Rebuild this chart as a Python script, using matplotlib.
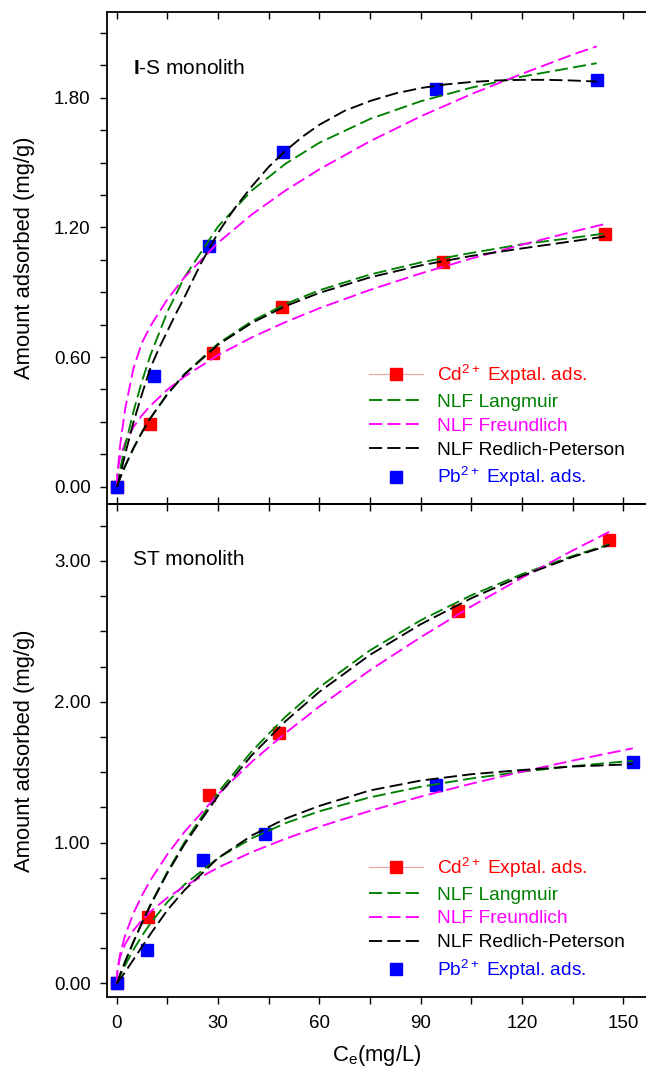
import matplotlib
matplotlib.use("Agg")
import matplotlib.pyplot as plt
from matplotlib.lines import Line2D
from matplotlib.ticker import MultipleLocator, FormatStrFormatter

plt.rcParams["font.family"] = ["Liberation Sans", "DejaVu Sans"]
plt.rcParams["mathtext.fontset"] = "custom"
plt.rcParams["mathtext.rm"] = "Liberation Sans"
plt.rcParams["mathtext.it"] = "Liberation Sans:italic"
plt.rcParams["mathtext.bf"] = "Liberation Sans:bold"

FS_TICK = 13.5
FS_LABEL = 15.8
FS_TITLE = 15.0
FS_LEG = 13.8

# ---------------- data ----------------
# I-S monolith: experimental points
IS_CD_X = [0, 9.8, 28.4, 49.0, 96.6, 144.6]
IS_CD_Y = [0, 0.29, 0.62, 0.832, 1.04, 1.17]
IS_PB_X = [0, 11.0, 27.3, 49.2, 94.6, 142.1]
IS_PB_Y = [0, 0.512, 1.113, 1.55, 1.84, 1.88]

# I-S monolith: fitted curves sampled along Ce
IS_CD_FX = [0, 0.25, 1, 2.5, 5, 7.5, 10, 15, 20, 30, 40, 50, 60, 75, 90, 105, 120, 135, 144.6]
IS_CD_LANG = [0, 0.010, 0.040, 0.095, 0.178, 0.252, 0.317, 0.429, 0.521, 0.662, 0.766,
              0.846, 0.909, 0.982, 1.038, 1.082, 1.122, 1.152, 1.172]
IS_CD_FREU = [0, 0.074, 0.136, 0.204, 0.277, 0.331, 0.375, 0.449, 0.509, 0.609, 0.691,
              0.762, 0.826, 0.911, 0.987, 1.056, 1.120, 1.180, 1.216]
IS_CD_RP = [0, 0.010, 0.040, 0.096, 0.180, 0.253, 0.318, 0.428, 0.518, 0.657, 0.758,
            0.836, 0.897, 0.969, 1.024, 1.068, 1.103, 1.136, 1.158]

IS_PB_FX = [0, 0.25, 1, 2.5, 5, 7.5, 10, 15, 20, 30, 40, 50, 60, 75, 90, 105, 120, 135, 142.1]
IS_PB_LANG = [0, 0.020, 0.080, 0.189, 0.350, 0.489, 0.609, 0.809, 0.968, 1.204, 1.371,
              1.495, 1.592, 1.702, 1.784, 1.847, 1.898, 1.940, 1.960]
IS_PB_FREU = [0, 0.060, 0.190, 0.360, 0.550, 0.667, 0.744, 0.867, 0.968, 1.129, 1.260,
              1.371, 1.469, 1.599, 1.714, 1.817, 1.911, 2.000, 2.038]
# Redlich-Peterson for Pb bends over, so it is read on a finer Ce grid
IS_PB_RP_X = [0, 0.25, 1, 2.5, 5, 7.5, 10, 12.5, 15, 17.5, 20, 25, 30, 35, 40, 45, 50,
              55, 60, 67.5, 75, 82.5, 90, 97.5, 105, 112.5, 120, 127.5, 135, 142.1]
IS_PB_RP = [0, 0.010, 0.050, 0.150, 0.300, 0.430, 0.550, 0.640, 0.720, 0.800, 0.875,
            1.035, 1.175, 1.290, 1.390, 1.480, 1.555, 1.620, 1.675, 1.740, 1.785,
            1.820, 1.845, 1.862, 1.873, 1.880, 1.883, 1.883, 1.880, 1.875]

# ST monolith: experimental points
ST_CD_X = [0, 9.2, 27.3, 48.1, 101.0, 145.8]
ST_CD_Y = [0, 0.473, 1.337, 1.78, 2.644, 3.148]
ST_PB_X = [0, 9.0, 25.5, 43.9, 94.6, 152.8]
ST_PB_Y = [0, 0.237, 0.873, 1.058, 1.408, 1.574]

# ST monolith: fitted curves
ST_CD_FX = [0, 0.25, 1, 2.5, 5, 7.5, 10, 15, 20, 30, 40, 50, 60, 75, 90, 105, 120, 135, 145.8]
ST_CD_LANG = [0, 0.016, 0.063, 0.153, 0.297, 0.432, 0.559, 0.792, 0.999, 1.355, 1.648,
              1.894, 2.103, 2.365, 2.578, 2.756, 2.906, 3.035, 3.117]
ST_CD_FREU = [0, 0.096, 0.206, 0.341, 0.500, 0.625, 0.733, 0.916, 1.074, 1.342, 1.573,
              1.778, 1.966, 2.224, 2.458, 2.677, 2.880, 3.074, 3.206]
ST_CD_RP = [0, 0.016, 0.063, 0.154, 0.297, 0.430, 0.555, 0.783, 0.985, 1.332, 1.620,
            1.862, 2.070, 2.333, 2.550, 2.735, 2.893, 3.028, 3.112]

ST_PB_FX = [0, 0.25, 1, 2.5, 5, 7.5, 10, 15, 20, 30, 40, 50, 60, 75, 90, 105, 120, 135, 152.8]
ST_PB_LANG = [0, 0.014, 0.053, 0.128, 0.240, 0.338, 0.427, 0.577, 0.700, 0.890, 1.030,
              1.138, 1.222, 1.321, 1.396, 1.455, 1.503, 1.542, 1.581]
ST_PB_FREU = [0, 0.100, 0.187, 0.279, 0.377, 0.450, 0.510, 0.608, 0.689, 0.822, 0.932,
              1.027, 1.112, 1.225, 1.326, 1.418, 1.503, 1.582, 1.669]
ST_PB_RP = [0, 0.008, 0.030, 0.080, 0.170, 0.260, 0.350, 0.520, 0.660, 0.890, 1.050,
            1.170, 1.260, 1.370, 1.440, 1.485, 1.515, 1.540, 1.556]

LEG_LABELS = ["Cd$^{2+}$ Exptal. ads.", "NLF Langmuir", "NLF Freundlich",
              "NLF Redlich-Peterson", "Pb$^{2+}$ Exptal. ads."]

PANELS = [
    dict(title="$\\mathbf{I}$-S monolith", title_y=(504 - 69) / 492,
         cd=(IS_CD_X, IS_CD_Y), pb=(IS_PB_X, IS_PB_Y),
         fits=[(IS_CD_FX, IS_CD_LANG, IS_CD_FREU, IS_CD_FX, IS_CD_RP),
               (IS_PB_FX, IS_PB_LANG, IS_PB_FREU, IS_PB_RP_X, IS_PB_RP)],
         ylim=(-0.080, 2.197), major=0.6, minor=0.15),
    dict(title="ST monolith", title_y=(997 - 560) / 493,
         cd=(ST_CD_X, ST_CD_Y), pb=(ST_PB_X, ST_PB_Y),
         fits=[(ST_CD_FX, ST_CD_LANG, ST_CD_FREU, ST_CD_FX, ST_CD_RP),
               (ST_PB_FX, ST_PB_LANG, ST_PB_FREU, ST_PB_FX, ST_PB_RP)],
         ylim=(-0.097, 3.404), major=1.0, minor=0.25),
]

RED, BLUE, GREEN, MAGENTA = "#ff0000", "#0000ff", "#008000", "#ff00ff"
DASH = (0, (7.0, 2.8))
LW = 1.35
MS = 8.5
TICK_LEN = 4.8

fig = plt.figure(figsize=(6.46, 10.72), dpi=100)
L = 107 / 646
ax_top = fig.add_axes([L, 1 - 504 / 1072, 1 - L, 492 / 1072])
ax_bot = fig.add_axes([L, 1 - 997 / 1072, 1 - L, 493 / 1072])

for ax, p in zip([ax_top, ax_bot], PANELS):
    ax.plot(*p["cd"], "s", color=RED, ms=MS, zorder=2)
    ax.plot(*p["pb"], "s", color=BLUE, ms=MS, zorder=2)
    for fx, lang, freu, rpx, rp in p["fits"]:
        ax.plot(fx, lang, color=GREEN, lw=LW, ls=DASH, zorder=3)
        ax.plot(fx, freu, color=MAGENTA, lw=LW, ls=DASH, zorder=3)
        ax.plot(rpx, rp, color="black", lw=LW, ls=DASH, zorder=4)

    ax.set_xlim(-2.87, 156.7)
    ax.set_ylim(*p["ylim"])
    ax.yaxis.set_major_locator(MultipleLocator(p["major"]))
    ax.yaxis.set_minor_locator(MultipleLocator(p["minor"]))
    ax.yaxis.set_major_formatter(FormatStrFormatter("%.2f"))
    ax.xaxis.set_major_locator(MultipleLocator(30))
    ax.xaxis.set_minor_locator(MultipleLocator(15))
    ax.spines["right"].set_visible(False)
    for s in ("left", "top", "bottom"):
        ax.spines[s].set_linewidth(1.3)
    ax.tick_params(axis="y", which="both", direction="out", length=TICK_LEN, width=1.0,
                   labelsize=FS_TICK, pad=7)
    ax.set_ylabel("Amount adsorbed (mg/g)", fontsize=FS_LABEL)
    ax.yaxis.set_label_coords(-0.133, 0.5)
    ax.text((133 - 107) / 539, p["title_y"], p["title"], fontsize=FS_TITLE,
            va="center", transform=ax.transAxes)

    handles = [
        Line2D([], [], color="#f0a0a0", lw=0.8, marker="s", ms=MS, mfc=RED, mec=RED),
        Line2D([], [], color=GREEN, lw=LW, ls=DASH),
        Line2D([], [], color=MAGENTA, lw=LW, ls=DASH),
        Line2D([], [], color="black", lw=LW, ls=DASH),
        Line2D([], [], ls="none", marker="s", ms=MS, color=BLUE),
    ]
    leg = ax.legend(handles, LEG_LABELS, loc="upper left", bbox_to_anchor=(0.486, 0.287),
                    frameon=False, fontsize=FS_LEG, handlelength=2.8, handletextpad=0.75,
                    labelspacing=0.34, borderpad=0, borderaxespad=0)
    for t, c in zip(leg.get_texts(), [RED, GREEN, MAGENTA, "black", BLUE]):
        t.set_color(c)

# top panel: x ticks inside on top and bottom, no x labels
ax_top.tick_params(axis="x", which="both", direction="in", top=True, bottom=True,
                   labelbottom=False, length=TICK_LEN, width=1.0)
# bottom panel: outward ticks below with labels, inward ticks on top
ax_bot.tick_params(axis="x", which="both", direction="out", length=TICK_LEN, width=1.0,
                   labelsize=FS_TICK, pad=8)
sec = ax_bot.secondary_xaxis("top")
sec.xaxis.set_major_locator(MultipleLocator(15))
sec.tick_params(axis="x", direction="in", length=TICK_LEN, width=1.0, labeltop=False)
sec.spines["top"].set_linewidth(1.3)
ax_bot.set_xlabel("C$_{\\mathrm{e}}$(mg/L)", fontsize=FS_LABEL, labelpad=8)

fig.savefig("out.png", dpi=100)
